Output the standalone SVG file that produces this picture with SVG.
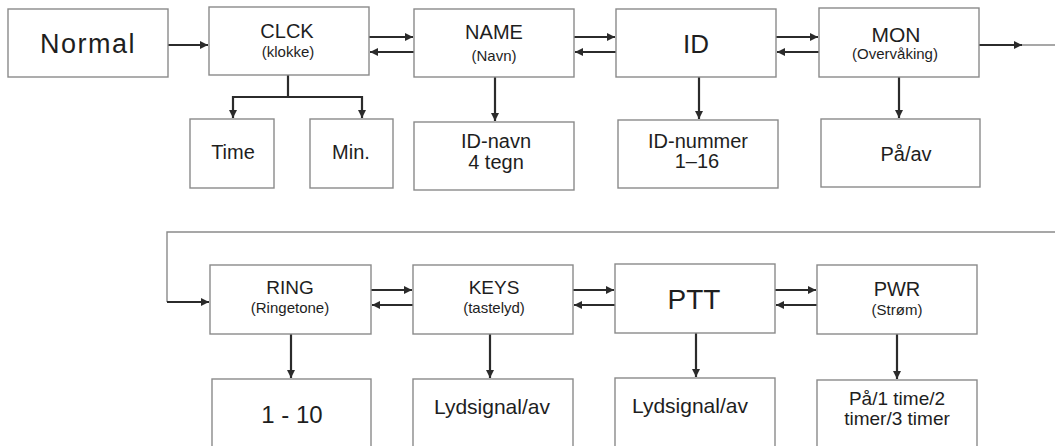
<svg xmlns="http://www.w3.org/2000/svg" width="1055" height="446" viewBox="0 0 1055 446">
<style>
.box{fill:#fff;stroke:#8a8a8a;stroke-width:1.4}
.c{fill:none;stroke:#2b2b2b;stroke-width:2.2}
.thin{fill:none;stroke:#8a8a8a;stroke-width:1.4}
text{font-family:"Liberation Sans",Arial,sans-serif;fill:#1e1e1e;text-anchor:middle}
.t{font-size:20px}
.s{font-size:15px}
.b{font-size:27px}
.v{font-size:20px}
</style>
<defs>
<marker id="ah" markerUnits="userSpaceOnUse" markerWidth="10" markerHeight="10" viewBox="0 0 10 10" refX="8" refY="5" orient="auto">
<path d="M0,1 L8,5 L0,9 Z" fill="#2b2b2b"/>
</marker>
</defs>
<rect width="1055" height="446" fill="#fff"/>

<g id="connectors">
<line class="c" x1="168" y1="45" x2="208" y2="45" marker-end="url(#ah)"/>
<line class="c" x1="369" y1="37" x2="413" y2="37" marker-end="url(#ah)"/>
<line class="c" x1="414" y1="52" x2="370" y2="52" marker-end="url(#ah)"/>
<line class="c" x1="574" y1="37" x2="615" y2="37" marker-end="url(#ah)"/>
<line class="c" x1="616" y1="52" x2="575" y2="52" marker-end="url(#ah)"/>
<line class="c" x1="776" y1="37" x2="818" y2="37" marker-end="url(#ah)"/>
<line class="c" x1="819" y1="52" x2="777" y2="52" marker-end="url(#ah)"/>
<line class="c" x1="979" y1="45" x2="1022" y2="45" marker-end="url(#ah)"/>
<line class="thin" x1="1022" y1="45" x2="1055" y2="45"/>
<path class="c" d="M288,75 V97 M233,97 H362"/>
<line class="c" x1="233" y1="96" x2="233" y2="118" marker-end="url(#ah)"/>
<line class="c" x1="362" y1="96" x2="362" y2="118" marker-end="url(#ah)"/>
<line class="c" x1="495" y1="77" x2="495" y2="121" marker-end="url(#ah)"/>
<line class="c" x1="699" y1="77" x2="699" y2="119" marker-end="url(#ah)"/>
<line class="c" x1="899" y1="77" x2="899" y2="118" marker-end="url(#ah)"/>
<path class="thin" d="M1055,232 H167 V302"/>
<line class="c" x1="167" y1="302" x2="209" y2="302" marker-end="url(#ah)"/>
<line class="c" x1="371" y1="290" x2="412" y2="290" marker-end="url(#ah)"/>
<line class="c" x1="413" y1="305" x2="372" y2="305" marker-end="url(#ah)"/>
<line class="c" x1="573" y1="290" x2="614" y2="290" marker-end="url(#ah)"/>
<line class="c" x1="615" y1="305" x2="574" y2="305" marker-end="url(#ah)"/>
<line class="c" x1="775" y1="290" x2="816" y2="290" marker-end="url(#ah)"/>
<line class="c" x1="817" y1="305" x2="776" y2="305" marker-end="url(#ah)"/>
<line class="c" x1="291" y1="334" x2="291" y2="378" marker-end="url(#ah)"/>
<line class="c" x1="490" y1="334" x2="490" y2="378" marker-end="url(#ah)"/>
<line class="c" x1="696" y1="333" x2="696" y2="377" marker-end="url(#ah)"/>
<line class="c" x1="897" y1="334" x2="897" y2="379" marker-end="url(#ah)"/>
</g>

<g id="normal"><rect class="box" x="8" y="9" width="160" height="68"/><text x="88" y="53" class="b" style="letter-spacing:1.5px">Normal</text></g>
<g id="clck"><rect class="box" x="209" y="7" width="160" height="68"/><text x="287" y="38" class="t">CLCK</text><text x="288" y="57" class="s">(klokke)</text></g>
<g id="name"><rect class="box" x="414" y="9" width="160" height="68"/><text x="494" y="39" class="t">NAME</text><text x="494" y="61" class="s">(Navn)</text></g>
<g id="id"><rect class="box" x="616" y="9" width="160" height="68"/><text x="696" y="53" style="font-size:26px">ID</text></g>
<g id="mon"><rect class="box" x="819" y="8" width="160" height="69"/><text x="896" y="42" style="font-size:21px">MON</text><text x="895" y="59" class="s">(Overvåking)</text></g>

<g id="time"><rect class="box" x="190" y="119" width="84" height="69"/><text x="233" y="159" class="v">Time</text></g>
<g id="min"><rect class="box" x="310" y="119" width="83" height="69"/><text x="351" y="159" class="v">Min.</text></g>
<g id="idnavn"><rect class="box" x="414" y="122" width="160" height="68"/><text x="496" y="148" class="v">ID-navn</text><text x="496" y="169" class="v">4 tegn</text></g>
<g id="idnummer"><rect class="box" x="618" y="120" width="160" height="68"/><text x="698" y="148" class="v">ID-nummer</text><text x="697" y="168" class="v">1–16</text></g>
<g id="paav"><rect class="box" x="821" y="119" width="159" height="68"/><text x="906" y="161" class="v">På/av</text></g>

<g id="ring"><rect class="box" x="210" y="265" width="161" height="69"/><text x="290" y="294" style="font-size:19px">RING</text><text x="290" y="313" class="s">(Ringetone)</text></g>
<g id="keys"><rect class="box" x="413" y="265" width="160" height="69"/><text x="494" y="294" style="font-size:19px">KEYS</text><text x="494" y="313" class="s">(tastelyd)</text></g>
<g id="ptt"><rect class="box" x="615" y="264" width="160" height="69"/><text x="694" y="309" style="font-size:28px">PTT</text></g>
<g id="pwr"><rect class="box" x="817" y="265" width="160" height="69"/><text x="897" y="296" class="t">PWR</text><text x="897" y="315" class="s">(Strøm)</text></g>

<g id="r110"><rect class="box" x="212" y="379" width="159" height="80"/><text x="292" y="423" style="font-size:24px">1 - 10</text></g>
<g id="keysval"><rect class="box" x="413" y="379" width="160" height="80"/><text x="492" y="414" style="font-size:21px">Lydsignal/av</text></g>
<g id="pttval"><rect class="box" x="615" y="378" width="160" height="80"/><text x="690" y="413" style="font-size:21px">Lydsignal/av</text></g>
<g id="pwrval"><rect class="box" x="817" y="380" width="160" height="80"/><text x="897" y="405" style="font-size:19px">På/1 time/2</text><text x="897" y="425" style="font-size:19px">timer/3 timer</text></g>
</svg>
